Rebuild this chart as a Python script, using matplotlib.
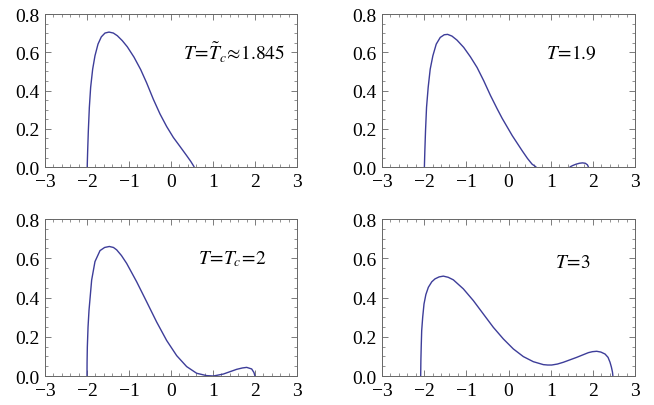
import matplotlib.pyplot as plt
from matplotlib.ticker import MultipleLocator

plt.rcParams['font.family'] = ['Liberation Serif', 'DejaVu Serif']
plt.rcParams['mathtext.fontset'] = 'stix'

# values
x_a = [-1.995, -1.99, -1.984, -1.968, -1.944, -1.913, -1.865, -1.81, -1.738, -1.659, -1.571,
       -1.476, -1.373, -1.278, -1.159, -1.04, -0.881, -0.722, -0.579, -0.421, -0.262, -0.103,
       0.056, 0.214, 0.373, 0.47, 0.555]
y_a = [0.0, 0.04, 0.085, 0.19, 0.312, 0.417, 0.512, 0.582, 0.643, 0.681, 0.701,
       0.706, 0.701, 0.687, 0.661, 0.629, 0.575, 0.51, 0.44, 0.355, 0.278, 0.212,
       0.155, 0.108, 0.06, 0.03, 0.0]

x_b = [-1.995, -1.99, -1.984, -1.968, -1.944, -1.905, -1.857, -1.794, -1.714, -1.619, -1.524,
       -1.444, -1.341, -1.222, -1.063, -0.905, -0.746, -0.587, -0.429, -0.27, -0.151, 0.087,
       0.325, 0.45, 0.56, 0.659]
y_b = [0.0, 0.04, 0.085, 0.19, 0.312, 0.417, 0.512, 0.582, 0.643, 0.678, 0.692,
       0.694, 0.685, 0.664, 0.626, 0.577, 0.521, 0.451, 0.375, 0.305, 0.255, 0.165,
       0.085, 0.045, 0.015, 0.0]
x_b2 = [1.45, 1.52, 1.60, 1.68, 1.754, 1.82, 1.87, 1.897]
y_b2 = [0.0, 0.008, 0.015, 0.020, 0.022, 0.020, 0.012, 0.0]

x_c = [-2.0, -1.998, -1.992, -1.975, -1.952, -1.889, -1.810, -1.690, -1.58, -1.468, -1.37,
       -1.294, -1.18, -1.056, -0.817, -0.579, -0.341, -0.103, 0.135, 0.373, 0.611, 0.849,
       1.008, 1.246, 1.563, 1.70, 1.802, 1.921, 1.975, 2.0]
y_c = [0.0, 0.07, 0.147, 0.25, 0.335, 0.489, 0.583, 0.639, 0.655, 0.660, 0.655,
       0.643, 0.614, 0.574, 0.480, 0.378, 0.275, 0.181, 0.104, 0.048, 0.014, 0.002,
       0.0, 0.010, 0.034, 0.041, 0.044, 0.036, 0.018, 0.0]

x_d = [-2.083, -2.078, -2.07, -2.059, -2.035, -2.004, -1.96, -1.901, -1.82, -1.743, -1.646,
       -1.546, -1.43, -1.308, -1.071, -0.833, -0.597, -0.360, -0.123, 0.114, 0.351, 0.588,
       0.826, 0.93, 1.023, 1.16, 1.300, 1.616, 1.893, 1.99, 2.091, 2.19, 2.289, 2.36, 2.407,
       2.44, 2.465, 2.475]
y_d = [0.0, 0.08, 0.15, 0.231, 0.30, 0.367, 0.415, 0.452, 0.48, 0.495, 0.505,
       0.509, 0.503, 0.490, 0.444, 0.384, 0.316, 0.248, 0.189, 0.138, 0.099, 0.073,
       0.058, 0.056, 0.056, 0.061, 0.070, 0.095, 0.119, 0.124, 0.126, 0.122, 0.112, 0.095, 0.07,
       0.045, 0.02, 0.0]

labels = [r'$T\!=\!\tilde{T}_c\!\approx\!1.845$', r'$T\!=\!1.9$',
          r'$T\!=\!T_c\!=\!2$', r'$T\!=\!3$']
label_x = [2.71, 2.1, 2.28, 1.95]
label_y = [0.6, 0.6, 0.6, 0.58]

line_color = '#3d3d99'
frame_color = '#666666'

fig = plt.figure(figsize=(6.54, 4.06), dpi=100)
rects = [[0.0688, 0.586, 0.3853, 0.3768],
         [0.5841, 0.586, 0.3869, 0.3768],
         [0.0688, 0.0714, 0.3853, 0.3867],
         [0.5841, 0.0714, 0.3869, 0.3867]]
curves = [[(x_a, y_a)], [(x_b, y_b), (x_b2, y_b2)], [(x_c, y_c)], [(x_d, y_d)]]

for i, r in enumerate(rects):
    ax = fig.add_axes(r)
    for xs, ys in curves[i]:
        ax.plot(xs, ys, color=line_color, lw=1.0, solid_capstyle='butt')
    ax.set_xlim(-3, 3)
    ax.set_ylim(0, 0.8)
    ax.xaxis.set_minor_locator(MultipleLocator(0.2))
    ax.yaxis.set_minor_locator(MultipleLocator(0.05))
    ax.set_xticks([-3, -2, -1, 0, 1, 2, 3])
    ax.set_xticklabels(['\u22123', '\u22122', '\u22121', '0', '1', '2', '3'])
    ax.set_yticks([0, 0.2, 0.4, 0.6, 0.8])
    ax.set_yticklabels(['0.0', '0.2', '0.4', '0.6', '0.8'])
    ax.tick_params(which='both', direction='in', top=True, right=True,
                   color=frame_color, labelsize=14, pad=4)
    ax.tick_params(which='major', length=4, width=0.6)
    ax.tick_params(which='minor', length=2, width=0.5)
    for s in ax.spines.values():
        s.set_color(frame_color)
        s.set_linewidth(0.7)
    ax.text(label_x[i], label_y[i], labels[i], ha='right', va='center', fontsize=14)

fig.savefig('out.png', dpi=100)
